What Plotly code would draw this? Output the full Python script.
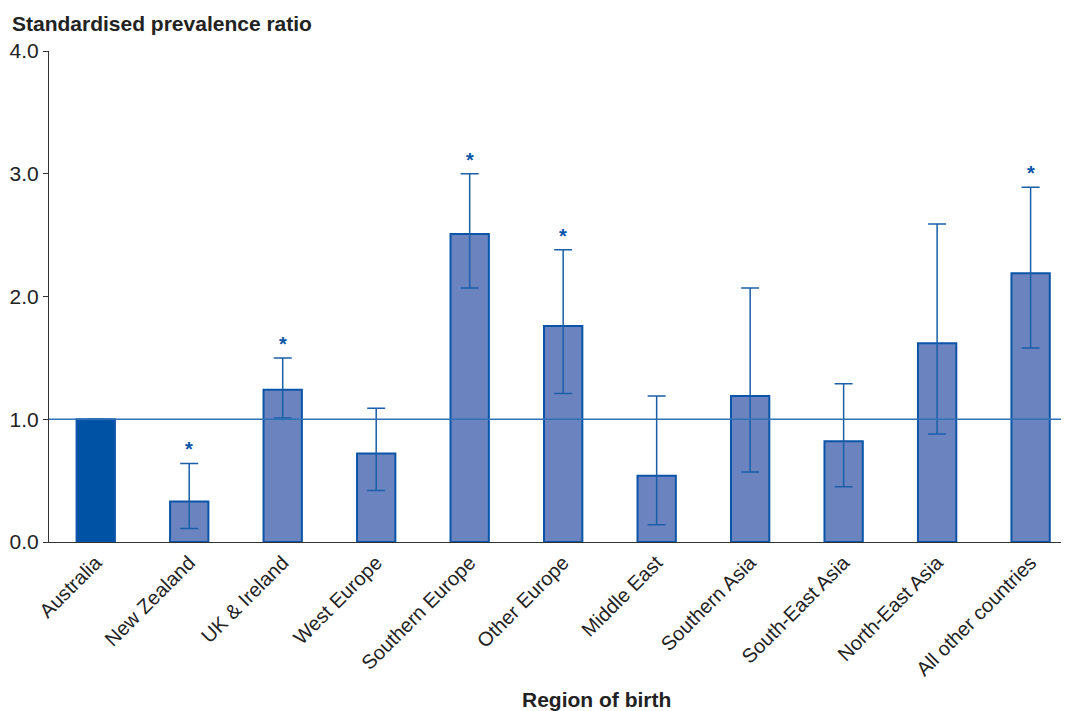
import plotly.graph_objects as go

categories = ["Australia", "New Zealand", "UK & Ireland", "West Europe", "Southern Europe",
              "Other Europe", "Middle East", "Southern Asia", "South-East Asia",
              "North-East Asia", "All other countries"]
ratio = [1.00, 0.33, 1.24, 0.72, 2.51, 1.76, 0.54, 1.19, 0.82, 1.62, 2.19]
upper = [None, 0.64, 1.50, 1.09, 3.00, 2.38, 1.19, 2.07, 1.29, 2.59, 2.89]
lower = [None, 0.11, 1.01, 0.42, 2.07, 1.21, 0.14, 0.57, 0.45, 0.88, 1.58]
significant = [False, True, True, False, True, True, False, False, False, False, True]

FONT = "Liberation Sans, Arial, sans-serif"
fills = ["#0052a5"] + ["#6b84c0"] * (len(categories) - 1)
err_plus = [0 if u is None else u - r for u, r in zip(upper, ratio)]
err_minus = [0 if l is None else r - l for l, r in zip(lower, ratio)]

W, H = 1061, 703
L, T, B, R = 38, 43, 169, 1
PW, PH = W - L - R, H - T - B

fig = go.Figure()
fig.add_trace(go.Bar(
    x=categories, y=ratio, width=0.41,
    marker=dict(color=fills, line=dict(color="#0a55a8", width=2)),
    error_y=dict(type="data", symmetric=False, array=err_plus, arrayminus=err_minus,
                 color="#1a5fa8", thickness=1.5, width=9, visible=True),
    showlegend=False, hoverinfo="x+y",
))

fig.add_hline(y=1.0, line=dict(color="#2f72b8", width=1.6))

for c, u, s in zip(categories, upper, significant):
    if s:
        fig.add_annotation(x=c, y=u, text="<b>*</b>", showarrow=False, yanchor="bottom",
                           yshift=1, font=dict(family=FONT, size=20, color="#0a55a8"))

fig.add_annotation(xref="paper", yref="paper", x=-(L + 1) / PW, y=1 + 14 / PH, xanchor="left",
                   yanchor="bottom", text="<b>Standardised prevalence ratio</b>",
                   showarrow=False, font=dict(family=FONT, size=21, color="#222"))
fig.add_annotation(xref="paper", yref="paper", x=(595 - 46) / PW, y=-(699 - 542) / PH,
                   xanchor="center", yanchor="middle", text="<b>Region of birth</b>",
                   showarrow=False, font=dict(family=FONT, size=21, color="#222"))

fig.update_layout(
    width=W, height=H,
    margin=dict(l=L, r=R, t=T, b=B),
    plot_bgcolor="white", paper_bgcolor="white",
    font=dict(family=FONT, color="#222"),
)
fig.update_xaxes(range=[-0.5, 10.4], showline=True, linecolor="#333", linewidth=1.2,
                 tickangle=-45, tickfont=dict(family=FONT, size=20, color="#222"),
                 ticks="", showgrid=False)
fig.update_yaxes(range=[0, 4], dtick=1, tickformat=".1f", showline=True, linecolor="#333",
                 linewidth=1.2, ticks="outside", ticklen=5, tickcolor="#333",
                 tickfont=dict(family=FONT, size=21, color="#222"), showgrid=False,
                 zeroline=False)

fig.write_html("out.html")
